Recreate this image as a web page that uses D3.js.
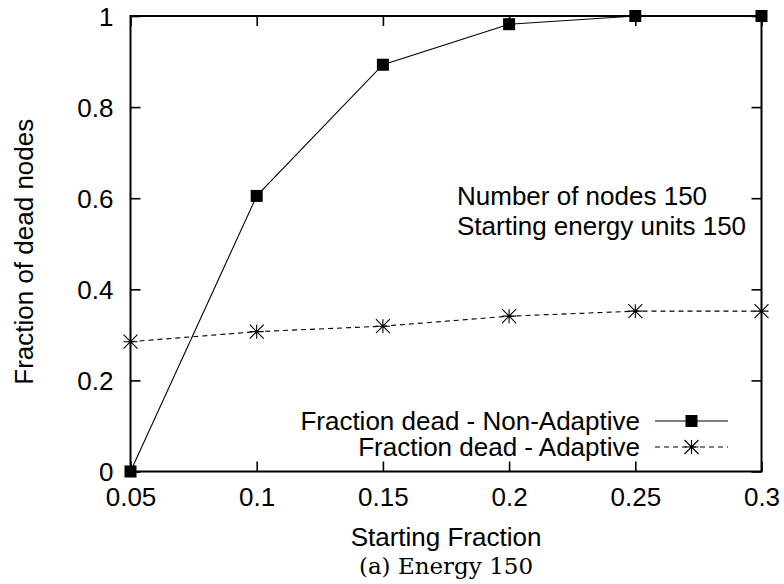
<!DOCTYPE html>
<html>
<head>
<meta charset="utf-8">
<script src="https://cdn.jsdelivr.net/npm/d3@7/dist/d3.min.js"></script>
<style>
  html, body { margin: 0; padding: 0; background: #fff; }
  svg { display: block; }
  text { font-family: "Liberation Sans", Arial, sans-serif; fill: #000; }
</style>
</head>
<body>
<svg id="chart" width="784" height="584"></svg>
<script>
// Starting fraction of nodes (x) and fraction of dead nodes (y)
const startingFraction = [0.05, 0.1, 0.15, 0.2, 0.25, 0.3];
const deadNonAdaptive = [0.0, 0.605, 0.893, 0.982, 1.0, 1.0];
const deadAdaptive = [0.285, 0.307, 0.319, 0.341, 0.352, 0.352];
const xTicks = [0.05, 0.1, 0.15, 0.2, 0.25, 0.3];
const yTicks = [0, 0.2, 0.4, 0.6, 0.8, 1];
const seriesNames = ["Fraction dead - Non-Adaptive", "Fraction dead - Adaptive"];
const noteLines = ["Number of nodes 150", "Starting energy units 150"];

const svg = d3.select("#chart");
const plotLeft = 130.5, plotRight = 761.5, plotTop = 16, plotBottom = 471.5;

const x = d3.scaleLinear().domain([0.05, 0.3]).range([plotLeft, plotRight]);
const y = d3.scaleLinear().domain([0, 1]).range([plotBottom, plotTop]);

const fontSize = 26;
const tickLen = 10;
const fmt = d3.format("");

// Tick marks on all four sides, pointing inward
const g = svg.append("g");
const axB = g.append("g").attr("transform", `translate(0,${plotBottom})`)
  .call(d3.axisBottom(x).tickValues(xTicks).tickSize(-tickLen).tickFormat(fmt));
const axT = g.append("g").attr("transform", `translate(0,${plotTop})`)
  .call(d3.axisTop(x).tickValues(xTicks).tickSize(-tickLen).tickFormat(""));
const axL = g.append("g").attr("transform", `translate(${plotLeft},0)`)
  .call(d3.axisLeft(y).tickValues(yTicks).tickSize(-tickLen).tickFormat(fmt));
const axR = g.append("g").attr("transform", `translate(${plotRight},0)`)
  .call(d3.axisRight(y).tickValues(yTicks).tickSize(-tickLen).tickFormat(""));

g.selectAll(".domain").remove();
g.selectAll(".tick line").attr("stroke", "#000").attr("stroke-width", 1.6);
g.selectAll(".tick text")
  .style("font-family", "'Liberation Sans', Arial, sans-serif")
  .style("font-size", fontSize + "px")
  .attr("fill", "#000");
axB.selectAll(".tick text").attr("y", 16).attr("dy", "0.71em");
axL.selectAll(".tick text").attr("x", -17).attr("dy", "0.35em");

// Plot frame
svg.append("rect")
  .attr("x", plotLeft).attr("y", plotTop)
  .attr("width", plotRight - plotLeft).attr("height", plotBottom - plotTop)
  .attr("fill", "none").attr("stroke", "#000").attr("stroke-width", 2);

// Axis titles
svg.append("text")
  .attr("x", (plotLeft + plotRight) / 2).attr("y", 546)
  .attr("text-anchor", "middle")
  .style("font-size", fontSize + "px")
  .text("Starting Fraction");
svg.append("text")
  .attr("transform", `translate(33,${(plotTop + plotBottom) / 2 + 8}) rotate(-90)`)
  .attr("text-anchor", "middle")
  .style("font-size", fontSize + "px")
  .text("Fraction of dead nodes");

// Caption
svg.append("text")
  .attr("x", 446).attr("y", 574)
  .attr("text-anchor", "middle")
  .style("font-family", "'DejaVu Serif', serif")
  .style("font-size", "23px")
  .text("(a) Energy 150");

// Annotation
svg.selectAll("text.note").data(noteLines).join("text")
  .attr("class", "note")
  .attr("x", 457)
  .attr("y", (d, i) => 205 + i * 30)
  .style("font-size", fontSize + "px")
  .text(d => d);

// Markers
const squareSize = 12;
function drawSquare(sel, cx, cy) {
  sel.append("rect")
    .attr("x", cx - squareSize / 2).attr("y", cy - squareSize / 2)
    .attr("width", squareSize).attr("height", squareSize)
    .attr("fill", "#000");
}
function asteriskPath(cx, cy) {
  const r = 7;
  return `M${cx - r},${cy}L${cx + r},${cy}` +
         `M${cx},${cy - r}L${cx},${cy + r}` +
         `M${cx - r},${cy - r}L${cx + r},${cy + r}` +
         `M${cx - r},${cy + r}L${cx + r},${cy - r}`;
}

const line = d3.line().x(d => x(d[0])).y(d => y(d[1]));
const nonAdaptive = startingFraction.map((f, i) => [f, deadNonAdaptive[i]]);
const adaptive = startingFraction.map((f, i) => [f, deadAdaptive[i]]);

// Adaptive series (dashed with asterisks)
svg.append("path").datum(adaptive)
  .attr("d", line).attr("fill", "none")
  .attr("stroke", "#000").attr("stroke-width", 1.1)
  .attr("stroke-dasharray", "5,4");
svg.selectAll("path.star").data(adaptive).join("path")
  .attr("class", "star")
  .attr("d", d => asteriskPath(x(d[0]), y(d[1])))
  .attr("stroke", "#000").attr("stroke-width", 1.1).attr("fill", "none");

// Non-adaptive series (solid with squares)
svg.append("path").datum(nonAdaptive)
  .attr("d", line).attr("fill", "none")
  .attr("stroke", "#000").attr("stroke-width", 1.1);
const sq = svg.append("g");
nonAdaptive.forEach(d => drawSquare(sq, x(d[0]), y(d[1])));

// Legend
const legendY = [421, 447];
const legendTextX = 640, sampleX0 = 655, sampleX1 = 728;
const legend = svg.append("g");
seriesNames.forEach((name, i) => {
  legend.append("text")
    .attr("x", legendTextX).attr("y", legendY[i])
    .attr("dy", "0.35em")
    .attr("text-anchor", "end")
    .style("font-size", fontSize + "px")
    .text(name);
  legend.append("line")
    .attr("x1", sampleX0).attr("x2", sampleX1)
    .attr("y1", legendY[i]).attr("y2", legendY[i])
    .attr("stroke", "#000").attr("stroke-width", 1.1)
    .attr("stroke-dasharray", i === 1 ? "5,4" : null);
  const mx = (sampleX0 + sampleX1) / 2;
  if (i === 0) drawSquare(legend, mx, legendY[i]);
  else legend.append("path").attr("d", asteriskPath(mx, legendY[i]))
    .attr("stroke", "#000").attr("stroke-width", 1.1).attr("fill", "none");
});
</script>
</body>
</html>
